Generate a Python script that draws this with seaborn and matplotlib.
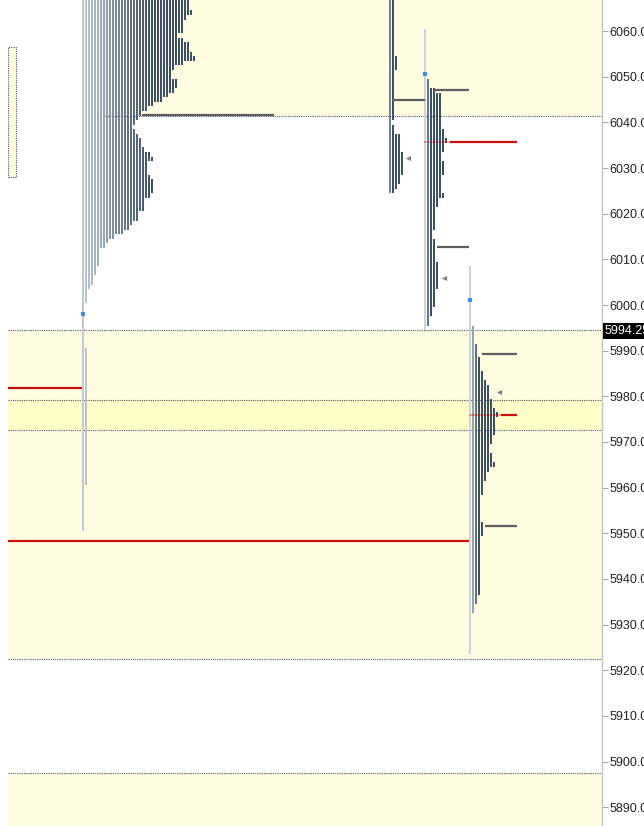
import numpy as np
import matplotlib
matplotlib.use("Agg")
import matplotlib.pyplot as plt
import seaborn as sns
from matplotlib.colors import LinearSegmentedColormap
from matplotlib.patches import Rectangle

# ---- data ----
tick_prices = list(range(5890, 6061, 10))
last_price = 5994.25

# TPO counts per 1-point price level, listed from the top level downwards
p1_top = 6067
p1_counts = [36, 36, 36, 37, 35, 34, 34, 34, 32, 34, 36, 36, 37, 38, 34, 31, 30, 30, 32, 32,
             31, 29, 27, 24, 22, 20, 19, 18, 17, 18, 19, 20, 20, 21, 23, 24, 22, 22, 22, 23,
             24, 24, 24, 23, 21, 21, 21, 19, 19, 17, 16, 14, 11, 9, 8, 6, 6, 6, 6, 5,
             5, 4, 4, 3, 2, 2, 2, 1, 1, 1, 1] + [1] * 6 + [2] * 30 + [1] * 10

p2_top = 6067
p2_counts = [2] * 13 + [3] * 3 + [2] * 11 + [1] + [2, 2] + [4] * 4 + [5] * 5 + [4, 4, 3, 2]

p3_top = 6060
p3_counts = [1] * 11 + [2, 2, 4] + [6] * 8 + [7, 7, 8, 7, 7, 6, 6, 7, 7, 7, 6, 6, 6, 6, 7, 5, 5] \
    + [4] * 5 + [3, 3] + [4] * 5 + [5] * 6 + [4] * 4 + [3, 3, 2, 2, 1]

p4_top = 6008
p4_counts = [1] * 13 + [2] * 4 + [3] * 3 + [4] * 3 + [5, 5, 6, 7, 7, 7, 8, 8, 9, 10, 9, 9, 9, 9,
             8, 8, 7, 7, 8, 8, 9, 7, 6, 6, 5, 5, 5] + [4] * 6 + [5] * 3 + [4] * 13 + [3, 3, 2, 2] + [1] * 9

# value-area / reference bands (low, high)
band_top = (6041.4, 6070)
band_mid = (5922.4, 5994.5)
band_inner = (5972.6, 5979.2)
band_low = (5880, 5897.4)
band_small = (6028.0, 6056.5)

# ---- layout (x is in pixel-like units across the plot) ----
W, H = 644, 826
AX_L, AX_R = 8, 602
x_max = AX_R - AX_L
y_top, y_bot = 6066.8, 5885.9
pitch = 3

sns.set_theme(style="white")
plt.rcParams['font.family'] = ['Liberation Sans', 'DejaVu Sans']

fig = plt.figure(figsize=(W / 100, H / 100), dpi=100)
ax = fig.add_axes([AX_L / W, 0, (AX_R - AX_L) / W, 1])
ax.set_xlim(0, x_max)
ax.set_ylim(y_bot, y_top)

yellow = '#fffde1'
yellow2 = '#ffffc9'
dot_col = '#55556e'

# bands
ax.axhspan(*band_top, xmin=95 / x_max, xmax=1, color=yellow, lw=0, zorder=0)
ax.axhspan(*band_mid, color=yellow, lw=0, zorder=0)
ax.axhspan(*band_inner, color=yellow2, lw=0, zorder=0)
ax.axhspan(*band_low, color=yellow, lw=0, zorder=0)
ax.add_patch(Rectangle((0, band_small[0]), 8, band_small[1] - band_small[0],
                       facecolor=yellow, edgecolor=dot_col, lw=0.8, ls=(0, (1, 1)), zorder=1))

for y, x0 in [(band_top[0], 95), (band_mid[1], 0), (band_inner[1], 0), (band_inner[0], 0),
              (band_mid[0], 0), (band_low[1], 0)]:
    ax.hlines(y, x0, x_max, colors=dot_col, lw=0.8, linestyles=(0, (1, 1)), zorder=1)

cmap = LinearSegmentedColormap.from_list('tpo', ['#d4dae3', '#9eabbc', '#66788f', '#3d506a'])


def draw_profile(top, counts, x0, start, ramp):
    counts = np.array(counts)
    prices = top - np.arange(len(counts))
    for j in range(counts.max()):
        m = counts > j
        c = cmap(min(1.0, start + j / ramp))
        ax.barh(prices[m], 2.3, left=x0 + pitch * j, height=1.02, color=c, lw=0, zorder=2)


draw_profile(p1_top, p1_counts, 74, 0.12, 26)
draw_profile(p2_top, p2_counts, 381, 0.6, 2.5)
draw_profile(p3_top, p3_counts, 416, 0.05, 1.6)
draw_profile(p4_top, p4_counts, 461, 0.05, 3.0)

# level lines
gray = '#5e5e5e'
red = '#cc1010'
for y, a, b in [(6041.6, 134, 266), (6044.9, 384, 417), (6047.1, 426, 461),
                (6012.7, 429, 461), (5989.3, 474, 509), (5951.6, 477, 509)]:
    ax.hlines(y, a, b, colors=gray, lw=1.6, zorder=3)
for y, a, b in [(6035.75, 442, 509), (5976.0, 493, 509), (5981.8, 0, 74), (5948.3, 0, 461)]:
    ax.hlines(y, a, b, colors=red, lw=1.6, zorder=3)
for y, a, b in [(6035.75, 416, 442), (5976.0, 461, 493)]:
    ax.hlines(y, a, b, colors=red, lw=1.4, alpha=0.35, zorder=3)

# markers
sns.scatterplot(x=[75, 417, 462], y=[5998, 6050.5, 6001], marker='s', s=5, color='#3a8ef0',
                linewidth=0, ax=ax, zorder=4)
sns.scatterplot(x=[400, 436, 491], y=[6032.2, 6005.9, 5980.9], marker='<', s=14, color='#808080',
                linewidth=0, ax=ax, zorder=4)

# axis
for s in ['left', 'top', 'bottom']:
    ax.spines[s].set_visible(False)
ax.spines['right'].set_color('#c4c4c4')
ax.spines['right'].set_linewidth(1.0)
ax.set_xticks([])
ax.yaxis.tick_right()
ax.set_yticks(tick_prices)
ax.set_yticklabels([f"{p:.2f}" for p in tick_prices])
ax.tick_params(axis='y', right=True, length=4, width=0.8, color='#a8a8a8', pad=1.5,
               labelsize=9, labelcolor='#222222')
ax.grid(False)

ax.text(1.004, last_price, f"{last_price:.2f}", transform=ax.get_yaxis_transform(),
        ha='left', va='center', fontsize=9, color='white', zorder=6, clip_on=False,
        bbox=dict(boxstyle='square,pad=0.15', facecolor='black', edgecolor='none'))

fig.savefig('out.png', dpi=100)
